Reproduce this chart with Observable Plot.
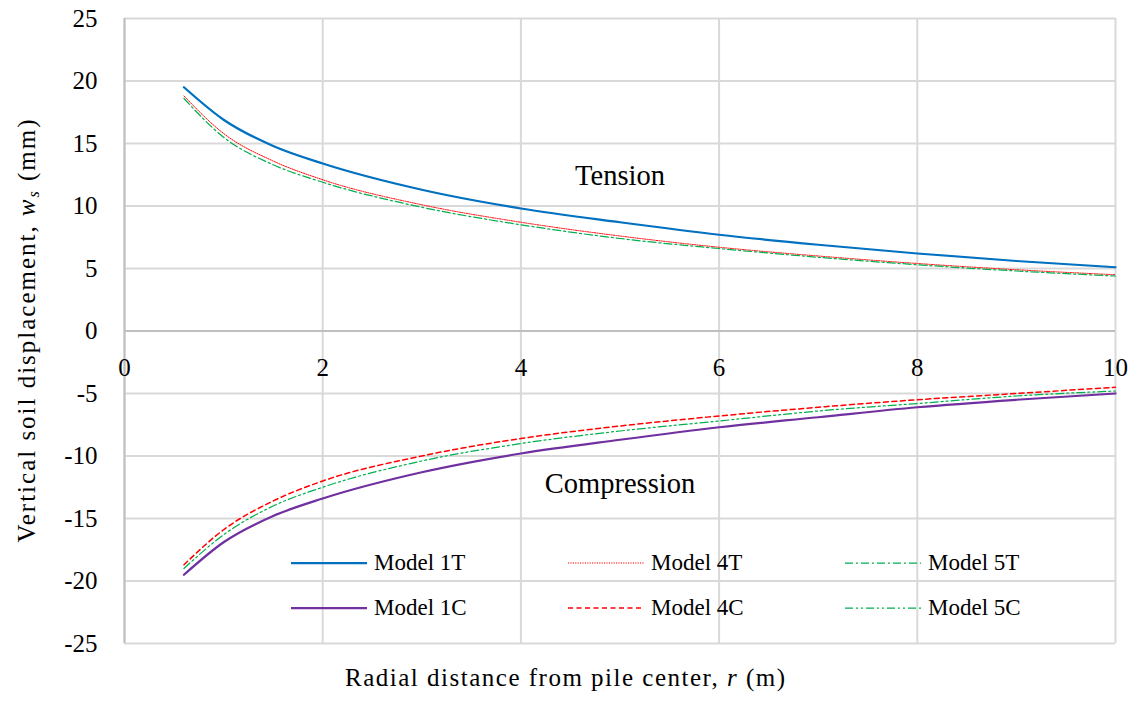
<!DOCTYPE html>
<html>
<head>
<meta charset="utf-8">
<script src="https://cdn.jsdelivr.net/npm/d3@7"></script>
<script src="https://cdn.jsdelivr.net/npm/@observablehq/plot@0.6"></script>
<style>
  html, body { margin: 0; padding: 0; background: #fff; }
  #wrap { position: relative; width: 1129px; height: 712px; font-family: "Liberation Serif", serif; }
  .leg { position: absolute; display: flex; align-items: center; font-size: 23px; color: #000; white-space: nowrap; font-family: "Liberation Serif", serif; }
  .leg svg { margin-right: 7px; }
</style>
</head>
<body>
<div id="wrap"></div>
<script>
// ---- data ----
const r = [0.6, 1, 1.5, 2, 3, 4, 5, 6, 7, 8, 9, 10];
const model1T = [19.5, 16.9, 14.8, 13.4, 11.3, 9.8, 8.7, 7.7, 6.9, 6.2, 5.6, 5.1];
const model4T = [18.8, 15.8, 13.6, 12.1, 10.1, 8.7, 7.6, 6.7, 6.0, 5.4, 4.9, 4.5];
const model5T = [18.6, 15.5, 13.3, 11.9, 9.9, 8.5, 7.4, 6.6, 5.9, 5.3, 4.8, 4.4];
const model1C = [-19.5, -16.9, -14.8, -13.4, -11.3, -9.8, -8.7, -7.7, -6.9, -6.1, -5.5, -5.0];
const model4C = [-18.7, -15.9, -13.6, -12.0, -10.0, -8.6, -7.6, -6.8, -6.1, -5.5, -5.0, -4.5];
const model5C = [-19.0, -16.3, -14.0, -12.5, -10.4, -9.0, -8.0, -7.2, -6.4, -5.8, -5.2, -4.8];
const seriesNames = ["Model 1T", "Model 4T", "Model 5T", "Model 1C", "Model 4C", "Model 5C"];
const xTicks = [0, 2, 4, 6, 8, 10];
const yTicks = [-25, -20, -15, -10, -5, 0, 5, 10, 15, 20, 25];
const annotationLabels = ["Tension", "Compression"];
const annotationR = [5, 5];
const annotationW = [12.4, -12.2];

// ---- styles ----
const FONT = "'Liberation Serif', serif";
const styles = {
  "Model 1T": {stroke: "#0070C0", strokeWidth: 2.25, dash: null},
  "Model 4T": {stroke: "#FF0000", strokeWidth: 1, dash: "1.2,1.2"},
  "Model 5T": {stroke: "#00B050", strokeWidth: 1.25, dash: "8,3,2,3"},
  "Model 1C": {stroke: "#7030A0", strokeWidth: 2.25, dash: null},
  "Model 4C": {stroke: "#FF0000", strokeWidth: 1.5, dash: "5,3.5"},
  "Model 5C": {stroke: "#00B050", strokeWidth: 1.25, dash: "8,3,2,3,2,3"}
};
const valuesBySeries = [model1T, model4T, model5T, model1C, model4C, model5C];
const rows = seriesNames.map((name, i) => r.map((x, j) => ({series: name, r: x, w: valuesBySeries[i][j]})));
const annotations = annotationLabels.map((t, i) => ({label: t, r: annotationR[i], w: annotationW[i]}));

const lineMarks = rows.map((data, i) => {
  const s = styles[seriesNames[i]];
  return Plot.line(data, {x: "r", y: "w", curve: "monotone-x", stroke: s.stroke, strokeWidth: s.strokeWidth, strokeDasharray: s.dash || undefined});
});

const chart = Plot.plot({
  width: 1129,
  height: 712,
  marginLeft: 124,
  marginRight: 14,
  marginTop: 18,
  marginBottom: 69,
  style: {fontSize: "24px", color: "#000", background: "#fff"},
  x: {domain: [0, 10], axis: null},
  y: {domain: [-25, 25], axis: null},
  marks: [
    Plot.gridX(xTicks, {stroke: "#d9d9d9", strokeOpacity: 1, strokeWidth: 2}),
    Plot.gridY(yTicks, {stroke: "#d9d9d9", strokeOpacity: 1, strokeWidth: 2}),
    Plot.ruleX([0], {stroke: "#bfbfbf", strokeWidth: 2}),
    Plot.ruleY([0], {stroke: "#bfbfbf", strokeWidth: 2}),
    Plot.text(yTicks, {x: 0, y: d => d, text: d => String(d), dx: -27, textAnchor: "end", fontSize: 25, fill: "#000"}),
    Plot.text(xTicks, {x: d => d, y: 0, text: d => String(d), dy: 37, fontSize: 25, fill: "#000"}),
    ...lineMarks,
    Plot.text(annotations, {x: "r", y: "w", text: "label", fontSize: 28.5, fill: "#000"})
  ]
});

const wrap = document.getElementById("wrap");
wrap.appendChild(chart);

// axis titles with italic / subscript
const svg = d3.select(chart);
const xt = svg.append("text")
  .attr("x", 565).attr("y", 686)
  .attr("text-anchor", "middle")
  .attr("font-size", 25).attr("fill", "#000")
  .attr("textLength", 440).attr("lengthAdjust", "spacing");
xt.append("tspan").text("Radial distance from pile center, ");
xt.append("tspan").attr("font-style", "italic").text("r");
xt.append("tspan").text(" (m)");

const yt = svg.append("text")
  .attr("transform", "translate(35,331) rotate(-90)")
  .attr("text-anchor", "middle")
  .attr("font-size", 25).attr("fill", "#000")
  .attr("textLength", 423).attr("lengthAdjust", "spacing");
yt.append("tspan").text("Vertical soil displacement, ");
yt.append("tspan").attr("font-style", "italic").text("w");
yt.append("tspan").attr("font-style", "italic").attr("font-size", 16).attr("dy", 4).text("s");
yt.append("tspan").attr("dy", -4).text(" (mm)");

// force the serif face on every svg text
svg.selectAll("text, tspan").each(function() { this.style.fontFamily = FONT; });

// legend (overlay inside plot area)
const legCols = [291, 568, 845];
const legRows = [563, 608];
seriesNames.forEach((name, i) => {
  const s = styles[name];
  const col = i % 3, row = Math.floor(i / 3);
  const div = document.createElement("div");
  div.className = "leg";
  div.style.left = legCols[col] + "px";
  div.style.top = (legRows[row] - 14) + "px";
  div.style.height = "28px";
  div.innerHTML = `<svg width="76" height="6"><line x1="0" x2="76" y1="3" y2="3" stroke="${s.stroke}" stroke-width="${s.strokeWidth}" ${s.dash ? `stroke-dasharray="${s.dash}"` : ""}/></svg><span>${name}</span>`;
  wrap.appendChild(div);
});
</script>
</body>
</html>
